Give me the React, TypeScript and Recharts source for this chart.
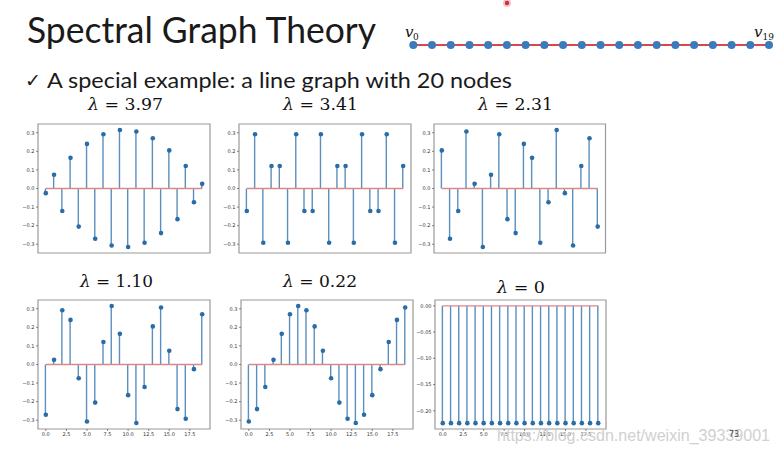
import React from 'react';
import {
  ComposedChart,
  Bar,
  Scatter,
  XAxis,
  YAxis,
  ReferenceLine,
  ReferenceArea,
  LineChart,
  Line,
} from 'recharts';

// ---------- data ----------
const nodes = [0, 1, 2, 3, 4, 5, 6, 7, 8, 9, 10, 11, 12, 13, 14, 15, 16, 17, 18, 19];
const chainLevel = [0, 0, 0, 0, 0, 0, 0, 0, 0, 0, 0, 0, 0, 0, 0, 0, 0, 0, 0, 0];

const vec397 = [-0.025, 0.074, -0.121, 0.165, -0.205, 0.24, -0.27, 0.292, -0.307, 0.315, -0.315, 0.307, -0.292, 0.27, -0.24, 0.205, -0.165, 0.121, -0.074, 0.025];
const vec341 = [-0.121, 0.292, -0.292, 0.121, 0.121, -0.292, 0.292, -0.121, -0.121, 0.292, -0.292, 0.121, 0.121, -0.292, 0.292, -0.121, -0.121, 0.292, -0.292, 0.121];
const vec231 = [0.205, -0.27, -0.121, 0.307, 0.025, -0.315, 0.074, 0.292, -0.165, -0.24, 0.24, 0.165, -0.292, -0.074, 0.315, -0.025, -0.307, 0.121, 0.27, -0.205];
const vec110 = [-0.27, 0.025, 0.292, 0.24, -0.074, -0.307, -0.205, 0.121, 0.315, 0.165, -0.165, -0.315, -0.121, 0.205, 0.307, 0.074, -0.24, -0.292, -0.025, 0.27];
const vec022 = [-0.307, -0.24, -0.121, 0.025, 0.165, 0.27, 0.315, 0.292, 0.205, 0.074, -0.074, -0.205, -0.292, -0.315, -0.27, -0.165, -0.025, 0.121, 0.24, 0.307];
const vec000 = [-0.2236, -0.2236, -0.2236, -0.2236, -0.2236, -0.2236, -0.2236, -0.2236, -0.2236, -0.2236, -0.2236, -0.2236, -0.2236, -0.2236, -0.2236, -0.2236, -0.2236, -0.2236, -0.2236, -0.2236];

const xTicks = [0, 2.5, 5, 7.5, 10, 12.5, 15, 17.5];
const yTicksWide = [-0.3, -0.2, -0.1, 0, 0.1, 0.2, 0.3];
const yTicksFlat = [-0.2, -0.15, -0.1, -0.05, 0];

const titleText = 'Spectral Graph Theory';
const subtitleText = 'A special example: a line graph with 20 nodes';
const watermark = 'https://blog.csdn.net/weixin_39339001';
const pageNo = '73';

// ---------- styles ----------
const STEM = '#5b8fbe';
const DOT = '#2a6ca6';
const BASE = '#d98a88';
const FRAME = '#9a9a9a';
const TICK = '#555';
const xDomain: [number, number] = [-0.95, 19.95];
const wideDomain: [number, number] = [-0.347, 0.347];
const flatDomain: [number, number] = [-0.2348, 0.0112];

const YW = 24;
const XH = 11;
const MT = 3;
const MR = 3;

const fmt = (v: number, d: number) => v.toFixed(d).replace('-', '\u2212');

const dotShape = (p: any) => <circle cx={p.cx} cy={p.cy} r={2.3} fill={DOT} />;

type Frame = { x0: number; x1: number; y0: number; y1: number };

function StemPanel({
  frame,
  values,
  yDomain,
  yTicks,
  decimals,
  showXLabels,
}: {
  frame: Frame;
  values: number[];
  yDomain: [number, number];
  yTicks: number[];
  decimals: number;
  showXLabels: boolean;
}) {
  const data = nodes.map((n, i) => ({ x: n, y: values[i] }));
  const w = frame.x1 - frame.x0 + YW + MR;
  const h = frame.y1 - frame.y0 + MT + XH;
  const tickStyle = { fontSize: 5, fill: '#333', fontFamily: 'DejaVu Sans' };
  return (
    <div style={{ position: 'absolute', left: frame.x0 - YW, top: frame.y0 - MT }}>
      <ComposedChart width={w} height={h} data={data} margin={{ top: MT, right: MR, left: 0, bottom: 0 }}>
        <XAxis
          dataKey="x"
          type="number"
          domain={xDomain}
          ticks={xTicks}
          interval={0}
          allowDataOverflow
          axisLine={false}
          tickLine={{ stroke: TICK, strokeWidth: 0.7 }}
          tickSize={2}
          tickMargin={1.5}
          height={XH}
          tick={showXLabels ? tickStyle : false}
          tickFormatter={(v: number) => fmt(v, 1)}
        />
        <YAxis
          type="number"
          domain={yDomain}
          ticks={yTicks}
          interval={0}
          allowDataOverflow
          axisLine={false}
          tickLine={{ stroke: TICK, strokeWidth: 0.7 }}
          tickSize={2}
          tickMargin={1.5}
          width={YW}
          tick={tickStyle}
          tickFormatter={(v: number) => fmt(v, decimals)}
        />
        <Bar dataKey="y" barSize={1.4} fill={STEM} isAnimationActive={false} />
        <ReferenceLine segment={[{ x: 0, y: 0 }, { x: 19, y: 0 }]} stroke={BASE} strokeWidth={1.4} />
        <Scatter dataKey="y" shape={dotShape} isAnimationActive={false} />
        <ReferenceArea
          x1={xDomain[0]}
          x2={xDomain[1]}
          y1={yDomain[0]}
          y2={yDomain[1]}
          fill="none"
          fillOpacity={0}
          stroke={FRAME}
          strokeWidth={1.2}
        />
      </ComposedChart>
    </div>
  );
}

const panels = [
  { frame: { x0: 38, x1: 210, y0: 124, y1: 253 }, values: vec397, dom: wideDomain, ticks: yTicksWide, dec: 1, xl: false },
  { frame: { x0: 239, x1: 411, y0: 124, y1: 253 }, values: vec341, dom: wideDomain, ticks: yTicksWide, dec: 1, xl: false },
  { frame: { x0: 433.5, x1: 605, y0: 124, y1: 253 }, values: vec231, dom: wideDomain, ticks: yTicksWide, dec: 1, xl: false },
  { frame: { x0: 38, x1: 210, y0: 299.5, y1: 428.5 }, values: vec110, dom: wideDomain, ticks: yTicksWide, dec: 1, xl: true },
  { frame: { x0: 241, x1: 413, y0: 299.5, y1: 428.5 }, values: vec022, dom: wideDomain, ticks: yTicksWide, dec: 1, xl: true },
  { frame: { x0: 435, x1: 606, y0: 299.5, y1: 428.5 }, values: vec000, dom: flatDomain, ticks: yTicksFlat, dec: 2, xl: true },
];

const lambdaTitles = [
  { x: 88, y: 110, w: 75, t: '3.97' },
  { x: 283, y: 110, w: 75, t: '3.41' },
  { x: 478, y: 110, w: 75, t: '2.31' },
  { x: 80, y: 287, w: 73, t: '1.10' },
  { x: 283, y: 287, w: 74, t: '0.22' },
  { x: 497, y: 293, w: 48, t: '0' },
];

export default function App() {
  const chainData = nodes.map((n, i) => ({ x: n, y: chainLevel[i] }));
  return (
    <div
      style={{
        position: 'absolute',
        left: 0,
        top: 0,
        width: 779,
        height: 452,
        background: '#fff',
        overflow: 'hidden',
      }}
    >
      {/* line graph with 20 nodes */}
      <div style={{ position: 'absolute', left: 400, top: 25 }}>
        <LineChart width={379} height={40} data={chainData} margin={{ top: 0, right: 10, left: 13.3, bottom: 0 }}>
          <XAxis dataKey="x" type="number" domain={[0, 19]} hide />
          <YAxis type="number" domain={[-1, 1]} hide />
          <Line
            dataKey="y"
            stroke="#d8474b"
            strokeWidth={1.8}
            dot={{ r: 4, fill: '#3a7bbd', stroke: 'none' }}
            isAnimationActive={false}
          />
        </LineChart>
      </div>

      {panels.map((p, i) => (
        <StemPanel
          key={i}
          frame={p.frame}
          values={p.values}
          yDomain={p.dom}
          yTicks={p.ticks}
          decimals={p.dec}
          showXLabels={p.xl}
        />
      ))}

      <svg
        width={779}
        height={452}
        style={{ position: 'absolute', left: 0, top: 0, pointerEvents: 'none' }}
      >
        <text x={27} y={43} fontFamily="Lato" fontSize={36} fill="#1a1a1a" textLength={349} lengthAdjust="spacingAndGlyphs">
          {titleText}
        </text>
        <text x={25} y={87} fontFamily="DejaVu Sans" fontSize={19} fill="#1a1a1a">
          {'\u2713'}
        </text>
        <text x={47} y={88} fontFamily="Lato" fontSize={22} fill="#1a1a1a" textLength={465} lengthAdjust="spacingAndGlyphs">
          {subtitleText}
        </text>

        <text x={405} y={37} fontFamily="DejaVu Serif" fontStyle="italic" fontSize={15} fill="#111">v</text>
        <text x={413} y={40} fontFamily="DejaVu Serif" fontSize={9} fill="#111">0</text>
        <text x={754} y={37} fontFamily="DejaVu Serif" fontStyle="italic" fontSize={15} fill="#111">v</text>
        <text x={762.5} y={40} fontFamily="DejaVu Serif" fontSize={9} fill="#111">19</text>

        {lambdaTitles.map((l, i) => (
          <text key={i} x={l.x} y={l.y} fontFamily="DejaVu Serif" fontSize={16} fill="#111" textLength={l.w} lengthAdjust="spacingAndGlyphs">
            <tspan fontStyle="italic">{'\u03bb'}</tspan>
            {' = ' + l.t}
          </text>
        ))}

        <circle cx={507} cy={3} r={4} fill="#f4c4c8" />
        <circle cx={507} cy={3} r={2.2} fill="#d0303c" />

        <text x={497} y={441} fontFamily="Liberation Sans" fontSize={17} fill="#d0d0d0" textLength={273} lengthAdjust="spacingAndGlyphs">
          {watermark}
        </text>
        <text x={729} y={437} fontFamily="DejaVu Sans" fontSize={8} fill="#444">
          {pageNo}
        </text>
      </svg>
    </div>
  );
}
